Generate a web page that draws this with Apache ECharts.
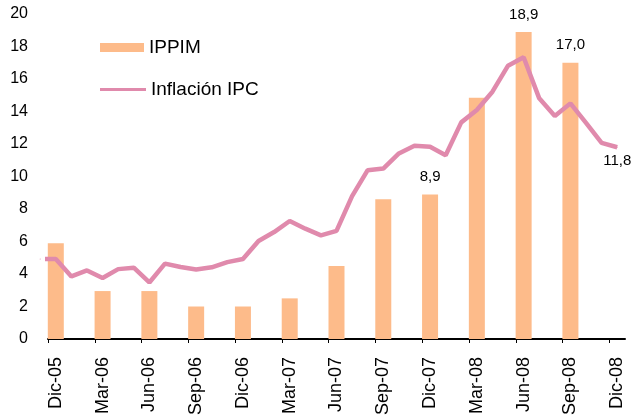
<!DOCTYPE html>
<html>
<head>
<meta charset="utf-8">
<script src="https://cdn.jsdelivr.net/npm/echarts@6/dist/echarts.min.js"></script>
<style>
  html, body { margin: 0; padding: 0; background: #fff; }
  #chart { width: 634px; height: 417px; }
</style>
</head>
<body>
<div id="chart"></div>
<script>
// etiquetas del eje x (trimestrales)
var tickLabels = ['Dic-05', 'Mar-06', 'Jun-06', 'Sep-06', 'Dic-06', 'Mar-07', 'Jun-07',
                  'Sep-07', 'Dic-07', 'Mar-08', 'Jun-08', 'Sep-08', 'Dic-08'];
var yTicks = [0, 2, 4, 6, 8, 10, 12, 14, 16, 18, 20];

// IPPIM, trimestral
var ippimMonths = ['Dic-05', 'Mar-06', 'Jun-06', 'Sep-06', 'Dic-06', 'Mar-07', 'Jun-07',
                   'Sep-07', 'Dic-07', 'Mar-08', 'Jun-08', 'Sep-08'];
var ippim = [5.9, 2.95, 2.95, 2.0, 2.0, 2.5, 4.5, 8.6, 8.9, 14.85, 18.9, 17.0];
var ippimLabelled = ['Dic-07', 'Jun-08', 'Sep-08'];

// Inflación IPC, mensual
var ipcMonths = ['Nov-05', 'Dic-05',
    'Ene-06', 'Feb-06', 'Mar-06', 'Abr-06', 'May-06', 'Jun-06', 'Jul-06', 'Ago-06', 'Sep-06', 'Oct-06', 'Nov-06', 'Dic-06',
    'Ene-07', 'Feb-07', 'Mar-07', 'Abr-07', 'May-07', 'Jun-07', 'Jul-07', 'Ago-07', 'Sep-07', 'Oct-07', 'Nov-07', 'Dic-07',
    'Ene-08', 'Feb-08', 'Mar-08', 'Abr-08', 'May-08', 'Jun-08', 'Jul-08', 'Ago-08', 'Sep-08', 'Oct-08', 'Nov-08', 'Dic-08'];
var ipc = [4.92, 4.92,
    3.85, 4.22, 3.75, 4.30, 4.39, 3.48, 4.64, 4.43, 4.28, 4.41, 4.73, 4.92,
    6.03, 6.58, 7.26, 6.79, 6.38, 6.65, 8.79, 10.39, 10.49, 11.42, 11.89, 11.83,
    11.31, 13.33, 14.09, 15.22, 16.82, 17.34, 14.81, 13.72, 14.50, 13.30, 12.07, 11.8];
var ipcLabelled = ['Dic-08'];

var monthNames = ['Ene', 'Feb', 'Mar', 'Abr', 'May', 'Jun', 'Jul', 'Ago', 'Sep', 'Oct', 'Nov', 'Dic'];

// meses desde Dic-05 (posición del eje)
function monthIndex(label) {
    var p = label.split('-');
    return (parseInt(p[1], 10) - 5) * 12 + monthNames.indexOf(p[0]) - 11;
}

function fmt(v) {
    return v.toFixed(1).replace('.', ',');
}

var tickPos = tickLabels.map(function (l) { return monthIndex(l); });
var labelPos = tickLabels.map(function (l) { return monthIndex(l) + 0.5; });

var barData = ippimMonths.map(function (m, i) {
    return {
        value: [monthIndex(m) + 0.5, ippim[i]],
        label: { show: ippimLabelled.indexOf(m) >= 0 }
    };
});
var lineData = ipcMonths.map(function (m, i) {
    return {
        value: [monthIndex(m) + 0.5, ipc[i]],
        label: { show: ipcLabelled.indexOf(m) >= 0 }
    };
});

var myChart = echarts.init(document.getElementById('chart'));
var option = {
    animation: false,
    textStyle: { fontFamily: 'Liberation Sans, Arial, sans-serif' },
    legend: [
        {
            orient: 'vertical',
            left: 100,
            top: 38,
            padding: 0,
            itemWidth: 44,
            itemHeight: 9,
            icon: 'rect',
            data: ['IPPIM'],
            textStyle: { fontSize: 19, color: '#000' }
        },
        {
            orient: 'vertical',
            left: 100,
            top: 80,
            padding: 0,
            itemWidth: 46,
            itemHeight: 3,
            icon: 'rect',
            data: ['Inflación IPC'],
            textStyle: { fontSize: 19, color: '#000' }
        }
    ],
    grid: {
        left: 48,
        right: 9,
        top: 14,
        bottom: 78,
        outerBoundsMode: 'none'
    },
    xAxis: {
        type: 'value',
        min: 0,
        max: 37,
        splitLine: { show: false },
        axisLine: { show: true, lineStyle: { color: '#000', width: 2 } },
        axisTick: { show: true, length: 4, customValues: tickPos, lineStyle: { color: '#000', width: 1 } },
        axisLabel: {
            customValues: labelPos,
            rotate: 90,
            margin: 18,
            fontSize: 18,
            color: '#000',
            formatter: function (v) {
                return tickLabels[labelPos.indexOf(v)] || '';
            }
        }
    },
    yAxis: {
        type: 'value',
        min: yTicks[0],
        max: yTicks[yTicks.length - 1],
        interval: 2,
        splitLine: { show: false },
        axisLine: { show: false },
        axisTick: { show: false },
        axisLabel: { fontSize: 16, color: '#000', margin: 20 }
    },
    series: [
        {
            name: 'IPPIM',
            type: 'bar',
            barWidth: 16,
            data: barData,
            itemStyle: { color: '#FDBB8A' },
            label: {
                position: 'top',
                distance: 10,
                fontSize: 15,
                color: '#000',
                formatter: function (p) { return fmt(p.value[1]); }
            }
        },
        {
            name: 'Inflación IPC',
            type: 'line',
            data: lineData,
            clip: false,
            symbol: 'circle',
            symbolSize: 1,
            showSymbol: true,
            showAllSymbol: true,
            itemStyle: { color: '#E08AAC' },
            lineStyle: { color: '#E08AAC', width: 4.5 },
            label: {
                position: 'bottom',
                distance: 6,
                fontSize: 15,
                color: '#000',
                formatter: function (p) { return fmt(p.value[1]); }
            },
            labelLayout: { hideOverlap: false }
        }
    ]
};
myChart.setOption(option);
</script>
</body>
</html>
